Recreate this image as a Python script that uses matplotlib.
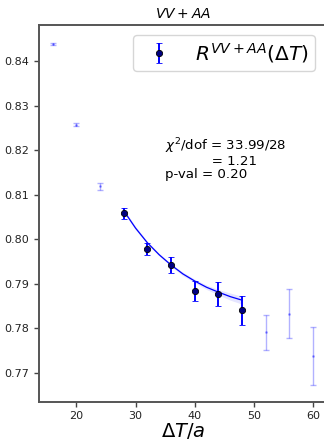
import numpy as np
import matplotlib.pyplot as plt

# ratio data, points outside the fit window
t_out = [16, 20, 24, 52, 56, 60]
r_out = [0.8438, 0.8257, 0.8119, 0.7791, 0.7833, 0.7738]
e_out = [0.0003, 0.0003, 0.0008, 0.0039, 0.0054, 0.0065]

# points used in the fit
t_fit = [28, 32, 36, 40, 44, 48]
r_fit = [0.8058, 0.7978, 0.7942, 0.7884, 0.7877, 0.7840]
e_fit = [0.0013, 0.0013, 0.0019, 0.0022, 0.0026, 0.0032]

# fit curve and its band
t_curve = [28, 30, 32, 34, 36, 38, 40, 42, 44, 46, 48]
r_curve = [0.8064, 0.8025, 0.7992, 0.7965, 0.7942, 0.7922, 0.7906, 0.7892, 0.7881, 0.7871, 0.7863]
band = [0.0004, 0.0004, 0.0003, 0.0003, 0.0003, 0.0004, 0.0004, 0.0005, 0.0006, 0.0008, 0.0009]

fig = plt.figure(figsize=(3.24, 4.41), dpi=100)
ax = fig.add_axes([0.1204, 0.0891, 0.89, 0.8542])

ax.errorbar(t_out, r_out, yerr=e_out, fmt='.', color='blue', ms=2,
            capsize=2, elinewidth=1, alpha=0.3)

rc = np.array(r_curve)
bd = np.array(band)
ax.fill_between(t_curve, rc - bd, rc + bd, color='blue', alpha=0.1, lw=0)
ax.plot(t_curve, r_curve, color='blue', lw=0.9)

ax.errorbar(t_fit, r_fit, yerr=e_fit, fmt='o', color='blue', ms=4.5,
            mfc='#000080', mec='black', mew=0.6, capsize=2,
            elinewidth=1.4, capthick=1.2, label=r'$R^{VV+AA}(\Delta T)$')

ax.set_xlim(13.7, 62.4)
ax.set_ylim(0.7635, 0.8481)
ax.set_xticks([20, 30, 40, 50, 60])
ax.set_yticks([0.77, 0.78, 0.79, 0.80, 0.81, 0.82, 0.83, 0.84])
ax.set_yticklabels(['0.77', '0.78', '0.79', '0.80', '0.81', '0.82', '0.83', '0.84'])
ax.tick_params(labelsize=8, color='#444444', labelcolor='#222222', length=3.5, width=1)
for s in ax.spines.values():
    s.set_color('#555555')
    s.set_linewidth(1.4)

ax.set_title(r'$VV+AA$', fontsize=10, pad=5)
ax.set_xlabel(r'$\Delta T/a$', fontsize=14, labelpad=0)

ax.text(0.437, 0.705, '$\\chi^2$/dof = 33.99/28\n           = 1.21\np-val = 0.20',
        transform=ax.transAxes, fontsize=9.6, va='top', linespacing=0.95)

ax.legend(loc='upper right', bbox_to_anchor=(0.957, 0.9735), borderaxespad=0,
          fontsize=14.5, handletextpad=0.8, borderpad=0.3)

fig.savefig('out.png', dpi=100)
